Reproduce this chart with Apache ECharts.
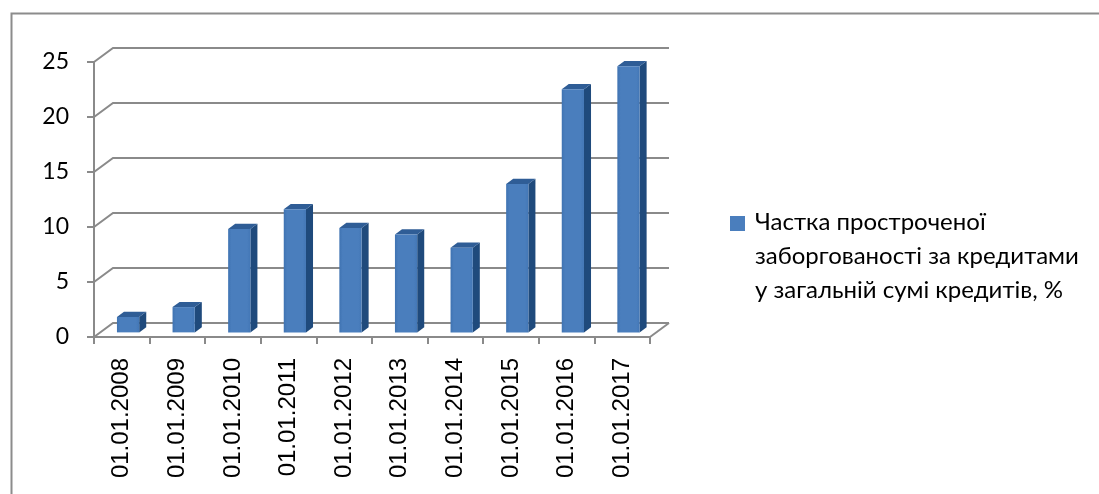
<!DOCTYPE html>
<html>
<head>
<meta charset="utf-8">
<script src="https://cdn.jsdelivr.net/npm/echarts@6/dist/echarts.min.js"></script>
<style>html,body{margin:0;padding:0;background:#fff}#c{width:1099px;height:494px}</style>
</head>
<body>
<div id="c"></div>
<script>
const categories = ['01.01.2008','01.01.2009','01.01.2010','01.01.2011','01.01.2012','01.01.2013','01.01.2014','01.01.2015','01.01.2016','01.01.2017'];
const shareValues = [1.4, 2.3, 9.4, 11.2, 9.5, 8.9, 7.7, 13.5, 22.1, 24.2];
const yTicks = [0, 5, 10, 15, 20, 25];
const seriesName = 'Частка простроченої заборгованості за кредитами у загальній сумі кредитів, %';
const legendLines = ['Частка простроченої', 'заборгованості за кредитами', 'у загальній сумі кредитів, %'];

const DX = 19, DY = -14;
const F = 0.33, B = 0.70;
const GRID_COLOR = '#8a8a8a';

const chart = echarts.init(document.getElementById('c'));

function renderGrid(params, api) {
  const cs = params.coordSys;
  const y = api.coord([0, api.value(1)])[1];
  const children = [{
    type: 'polyline',
    shape: { points: [[cs.x, y], [cs.x + DX, y + DY], [cs.x + cs.width + DX, y + DY]] },
    style: { stroke: GRID_COLOR, lineWidth: 2, fill: null }
  }];
  if (api.value(1) === 0) {
    children.push({
      type: 'line',
      shape: { x1: cs.x + cs.width, y1: y, x2: cs.x + cs.width + DX, y2: y + DY },
      style: { stroke: GRID_COLOR, lineWidth: 2 }
    });
  }
  return { type: 'group', children };
}

function renderBar(params, api) {
  const i = api.value(0), v = api.value(1);
  const base = api.coord([i, 0]);
  const top = api.coord([i, v]);
  const band = api.size([1, 0])[0];
  const w = band * 0.4;
  const xl = base[0] + F * DX - w / 2, xr = xl + w;
  const yb = base[1] + F * DY, yt = top[1] + F * DY;
  const ddx = (B - F) * DX, ddy = (B - F) * DY;
  return {
    type: 'group',
    children: [
      { type: 'polygon', shape: { points: [[xr, yt], [xr + ddx, yt + ddy], [xr + ddx, yb + ddy], [xr, yb]] },
        style: { fill: '#1f4a7c' } },
      { type: 'polygon', shape: { points: [[xl, yt], [xl + ddx, yt + ddy], [xr + ddx, yt + ddy], [xr, yt]] },
        style: { fill: '#2f5d96' } },
      { type: 'rect', shape: { x: xl, y: yt, width: w, height: yb - yt },
        style: { fill: new echarts.graphic.LinearGradient(0, 0, 1, 0, [
          { offset: 0, color: '#3f73b2' }, { offset: 0.15, color: '#4a7ebd' }, { offset: 0.85, color: '#4a7ebd' }, { offset: 1, color: '#4377b6' }]) } }
    ]
  };
}

chart.setOption({
  animation: false,
  backgroundColor: '#ffffff',
  grid: { left: 94, top: 62, width: 556, height: 275, containLabel: false },
  xAxis: {
    type: 'category',
    data: categories,
    boundaryGap: true,
    axisLine: { show: true, lineStyle: { color: GRID_COLOR, width: 2 } },
    axisTick: { show: true, length: 7, alignWithLabel: false, lineStyle: { color: GRID_COLOR, width: 2 } },
    axisLabel: { rotate: 90, margin: 21, color: '#000', fontFamily: 'Liberation Sans', fontSize: 24, interval: 0 },
    splitLine: { show: false }
  },
  yAxis: {
    type: 'value',
    min: 0, max: 25, interval: 5,
    axisLine: { show: true, lineStyle: { color: GRID_COLOR, width: 2 } },
    axisTick: { show: true, length: 7, lineStyle: { color: GRID_COLOR, width: 2 } },
    axisLabel: { margin: 25, color: '#000', fontFamily: 'Lato, "Open Sans", sans-serif', fontSize: 23 },
    splitLine: { show: false }
  },
  series: [
    {
      type: 'custom',
      name: 'grid',
      silent: true,
      z: 1,
      renderItem: renderGrid,
      data: yTicks.map(v => [0, v])
    },
    {
      type: 'custom',
      name: seriesName,
      z: 3,
      renderItem: renderBar,
      data: shareValues.map((v, i) => [i, v])
    }
  ],
  graphic: [
    { type: 'rect', left: 9, top: 11, shape: { width: 1300, height: 700 }, style: { fill: null, stroke: '#8c8c8c', lineWidth: 2 }, silent: true, z: 0 },
    { type: 'rect', left: 730, top: 216, shape: { width: 15, height: 15 }, style: { fill: '#4a7ebd' } },
    { type: 'text', left: 755, top: 205, style: { text: legendLines.join('\n'), fontFamily: 'Lato, "Open Sans", sans-serif', fontSize: 24, lineHeight: 34, fill: '#000' } }
  ]
});
</script>
</body>
</html>
